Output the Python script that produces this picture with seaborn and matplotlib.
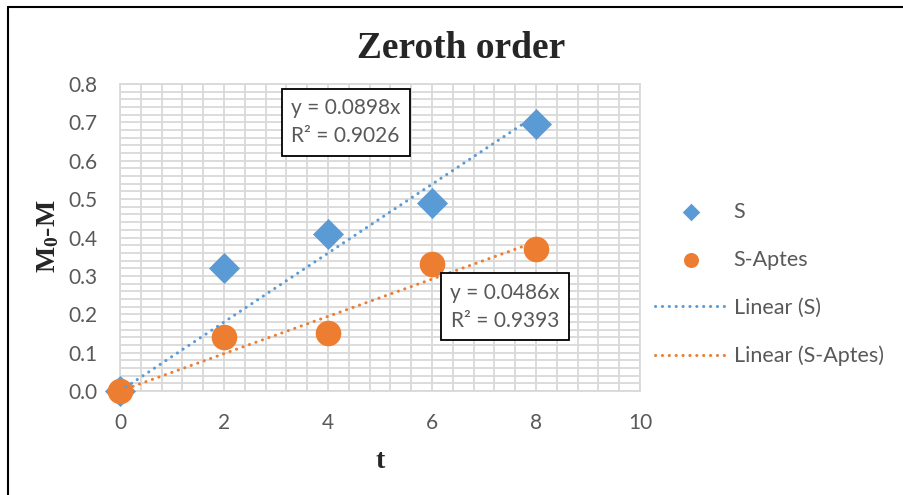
import numpy as np
import pandas as pd
import matplotlib
matplotlib.use("Agg")
import matplotlib.pyplot as plt
from matplotlib.ticker import MultipleLocator, FormatStrFormatter
from matplotlib.lines import Line2D
import seaborn as sns

# Measurements
t_values = [0, 2, 4, 6, 8]
s_values = [0.0, 0.32, 0.41, 0.49, 0.695]
s_aptes_values = [0.0, 0.14, 0.15, 0.33, 0.37]

series_names = ["S", "S-Aptes"]
trend_names = ["Linear (S)", "Linear (S-Aptes)"]
# Fitted trend lines through the origin: slope and R²
trend_slopes = [0.0898, 0.0486]
trend_r2 = [0.9026, 0.9393]

x_ticks = [0, 2, 4, 6, 8, 10]
y_ticks = [0.0, 0.1, 0.2, 0.3, 0.4, 0.5, 0.6, 0.7, 0.8]

blue = "#5B9BD5"
orange = "#ED7D31"
grid_col = "#D9D9D9"
text_col = "#595959"

sns.set_style("white")
plt.rcParams["font.family"] = ["Lato", "DejaVu Sans"]
plt.rcParams["mathtext.default"] = "regular"

W, H = 904, 495
fig = plt.figure(figsize=(W / 100, H / 100), dpi=100)
ax = fig.add_axes([120 / W, 1 - 391 / H, 520 / W, (391 - 84) / H])

df = pd.DataFrame({"t": t_values, "S": s_values, "S-Aptes": s_aptes_values})

sns.scatterplot(data=df, x="t", y="S", ax=ax, marker="D", s=250, color=blue,
                linewidth=0, label=series_names[0], zorder=3, clip_on=False)
sns.scatterplot(data=df, x="t", y="S-Aptes", ax=ax, marker="o", s=340, color=orange,
                linewidth=0, label=series_names[1], zorder=3, clip_on=False)

t_line = np.array([t_values[0], t_values[-1]], dtype=float)
for slope, name, col in zip(trend_slopes, trend_names, [blue, orange]):
    sns.lineplot(x=t_line, y=slope * t_line, ax=ax, color=col, lw=2.2,
                 linestyle=(0, (0.05, 2.2)), label=name, zorder=4)

for line in ax.get_lines():
    line.set_dash_capstyle("round")

ax.set_xlim(0, 10)
ax.set_ylim(0, 0.8)
ax.set_xticks(x_ticks)
ax.set_yticks(y_ticks)
ax.xaxis.set_minor_locator(MultipleLocator(0.4))
ax.yaxis.set_minor_locator(MultipleLocator(0.02))
ax.yaxis.set_major_formatter(FormatStrFormatter("%.1f"))
ax.grid(True, which="both", color=grid_col, lw=1.3)
ax.set_axisbelow(True)
for sp in ax.spines.values():
    sp.set_color(grid_col)
    sp.set_linewidth(1.3)
ax.tick_params(which="both", length=0, colors=text_col, labelsize=15, pad=16)
ax.set_xlabel("")
ax.set_ylabel("")

# Trend-line equation boxes
box = dict(boxstyle="square,pad=0.45", fc="white", ec="black", lw=1.3)
eq_pos = [(4.34, 0.70), (7.40, 0.22)]
for slope, r2, (bx, by) in zip(trend_slopes, trend_r2, eq_pos):
    ax.text(bx, by, f"y = {slope:.4f}x\nR² = {r2:.4f}", ha="center", va="center",
            fontsize=15, color=text_col, linespacing=1.5, bbox=box, zorder=5)

serif = ["Liberation Serif", "DejaVu Serif"]
fig.text(461 / W, 1 - 49 / H, "Zeroth order", ha="center", va="center",
         fontsize=27, fontweight="bold", family=serif)
fig.text(380 / W, 1 - 462 / H, "t", ha="center", va="center",
         fontsize=20, fontweight="bold", family=serif)
fig.text(48 / W, 1 - 236 / H, r"$\mathregular{M_0}$-M", ha="center", va="center",
         rotation=90, fontsize=20, fontweight="bold", family=serif)

handles, labels = ax.get_legend_handles_labels()
if ax.legend_:
    ax.legend_.remove()
leg = fig.legend(handles, labels, loc="center left",
                 bbox_to_anchor=(655 / W, 1 - 284 / H), frameon=False,
                 fontsize=15.5, labelcolor=text_col, handlelength=3.35,
                 handletextpad=0.3, labelspacing=1.3, borderpad=0,
                 borderaxespad=0)
legend_marker_sizes = [80, 117]
for h, sz in zip(leg.legend_handles[:2], legend_marker_sizes):
    if hasattr(h, "set_sizes"):
        h.set_sizes([sz])
    else:
        h.set_markersize(np.sqrt(sz))

# Outer frame
fig.add_artist(Line2D([7.5 / W, 7.5 / W], [0, 1 - 6.5 / H], color="black", lw=1.5,
                      transform=fig.transFigure))
fig.add_artist(Line2D([7.5 / W, 1], [1 - 6.5 / H, 1 - 6.5 / H], color="black", lw=1.5,
                      transform=fig.transFigure))

fig.savefig("out.png", dpi=100)
